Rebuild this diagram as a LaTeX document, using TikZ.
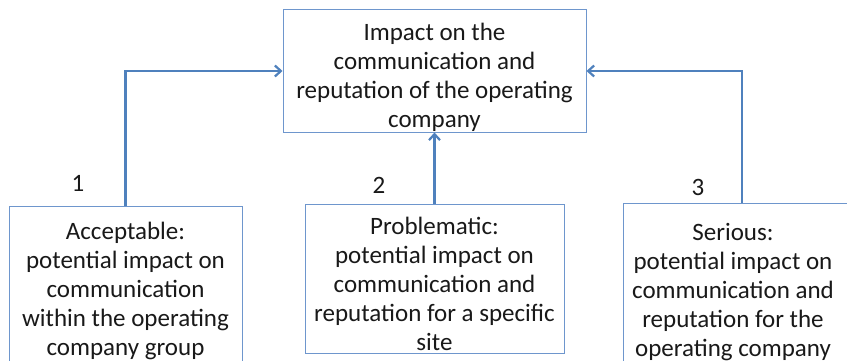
\documentclass[tikz,border=0pt]{standalone}
\usepackage{fontspec}
\setmainfont{Carlito}
\usetikzlibrary{arrows.meta,calc}
\definecolor{boxblue}{RGB}{110,150,205}
\definecolor{arrblue}{RGB}{79,129,189}
\definecolor{txt}{RGB}{25,25,25}
\tikzset{
  box/.style={draw=boxblue, line width=1pt, align=center, inner sep=0pt,
    font=\fontsize{25}{29}\selectfont, text=txt},
  num/.style={font=\fontsize{25}{29}\selectfont, text=txt, inner sep=0pt},
  arr/.style={draw=arrblue, line width=2.6pt, -{Straight Barb[length=6pt,width=11pt,line width=2.2pt]}}
}
\begin{document}
\begin{tikzpicture}[x=1pt,y=1pt]
\useasboundingbox (0,0) rectangle (847,360);
\clip (0,0) rectangle (847,360);
\fill[white] (0,0) rectangle (847,360);
\node[box, minimum width=303, minimum height=116] (top) at (434.5,289)
  {\rule{0pt}{31pt}Impact on the\\communication and\\reputation of the operating\\company};
\node[box, minimum width=233, minimum height=168, anchor=north] (b1) at (125.5,154)
  {Acceptable:\\potential impact on\\communication\\within the operating\\company group};
\node[box, minimum width=259, minimum height=149, anchor=north] (b2) at (434.5,156)
  {\rule{0pt}{28pt}Problematic:\\potential impact on\\communication and\\reputation for a specific\\site};
\node[box, draw=none, minimum width=218, minimum height=178, anchor=north] (b3) at (733,157)
  {Serious:\\potential impact on\\communication and\\reputation for the\\operating company};
\draw[draw=boxblue, line width=1pt] (b3.north west) rectangle ($(b3.south west)+(260,0)$);
\node[num] (n1) at (78,177) {1};
\node[num] (n2) at (379,175) {2};
\node[num] (n3) at (698,173) {3};
\coordinate (b3top) at ($(b3.north)+(9,0)$);
\draw[arr] (b1.north) |- (top.west);
\draw[arr] (b2.north) -- (top.south);
\draw[arr] (b3top) |- (top.east);
\end{tikzpicture}
\end{document}
